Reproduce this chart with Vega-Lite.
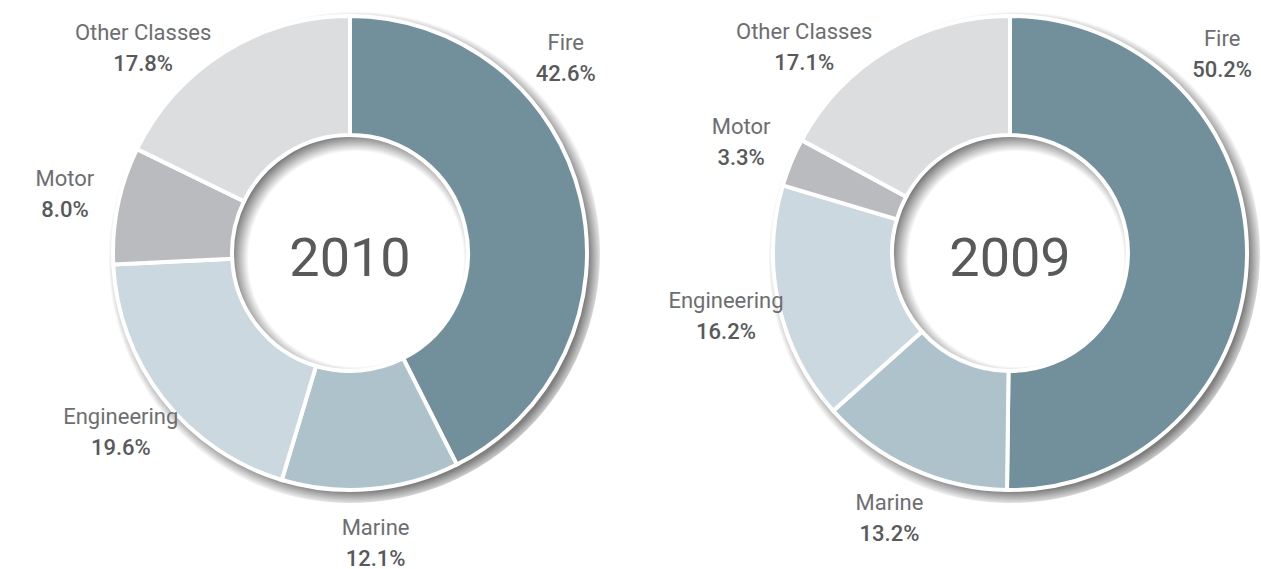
{
  "$schema": "https://vega.github.io/schema/vega-lite/v6.json",
  "padding": 0,
  "spacing": 60,
  "bounds": "flush",
  "background": "white",
  "config": {"view": {"stroke": null}, "font": "Roboto"},
  "datasets": {
    "shares": [
      {"year": "2010", "cls": "Fire", "pct": 42.6, "o": 1},
      {"year": "2010", "cls": "Marine", "pct": 12.1, "o": 2},
      {"year": "2010", "cls": "Engineering", "pct": 19.6, "o": 3},
      {"year": "2010", "cls": "Motor", "pct": 8.0, "o": 4},
      {"year": "2010", "cls": "Other Classes", "pct": 17.8, "o": 5},
      {"year": "2009", "cls": "Fire", "pct": 50.2, "o": 1},
      {"year": "2009", "cls": "Marine", "pct": 13.2, "o": 2},
      {"year": "2009", "cls": "Engineering", "pct": 16.2, "o": 3},
      {"year": "2009", "cls": "Motor", "pct": 3.3, "o": 4},
      {"year": "2009", "cls": "Other Classes", "pct": 17.1, "o": 5}
    ]
  },
  "hconcat": [
    {
      "width": 700,
      "height": 506,
      "data": {"name": "shares"},
      "transform": [
        {"filter": "datum.year == '2010'"},
        {"stack": "pct", "groupby": ["year"], "sort": [{"field": "o", "order": "ascending"}], "as": ["s0", "s1"]},
        {"calculate": "(datum.s0 + datum.s1) / 2", "as": "mid"},
        {"calculate": "datum.mid < 37.5 ? 13.3 : (datum.mid > 83 ? 87.5 : datum.mid)", "as": "la"},
        {"calculate": "format(datum.pct, '.1f') + '%'", "as": "plab"}
      ],
      "layer": [
        {
          "data": {"values": [{"shadow": 1}]},
          "transform": [],
          "mark": {"type": "arc", "theta": 0, "theta2": 6.2832, "radius": 250, "innerRadius": 0,
            "fill": {"gradient": "radial", "x1": 0.512, "y1": 0.512, "r1": 0, "x2": 0.512, "y2": 0.512, "r2": 0.5,
              "stops": [
                {"offset": 0, "color": "rgba(0,0,0,0)"},
                {"offset": 0.43, "color": "rgba(0,0,0,0)"},
                {"offset": 0.5, "color": "rgba(0,0,0,0.55)"},
                {"offset": 0.93, "color": "rgba(0,0,0,0.5)"},
                {"offset": 0.99, "color": "rgba(0,0,0,0)"},
                {"offset": 1, "color": "rgba(0,0,0,0)"}
              ]}},
          "encoding": {}
        },
        {
          "mark": {"type": "arc", "radius": 237, "innerRadius": 118, "stroke": "white", "strokeWidth": 4},
          "encoding": {
            "theta": {"field": "pct", "type": "quantitative", "stack": true},
            "color": {"field": "cls", "type": "nominal", "legend": null,
              "scale": {"domain": ["Fire", "Marine", "Engineering", "Motor", "Other Classes"],
                        "range": ["#728f9c", "#aec2cb", "#cbd8e0", "#babbbf", "#dcdddf"]}},
            "order": {"field": "o", "type": "quantitative"}
          }
        },
        {
          "mark": {"type": "text", "radius": 291, "dy": -15, "fontSize": 22, "color": "#6d6e71", "baseline": "middle"},
          "encoding": {
            "theta": {"field": "la", "type": "quantitative", "stack": null},
            "text": {"field": "cls", "type": "nominal"}
          }
        },
        {
          "mark": {"type": "text", "radius": 291, "dy": 16, "fontSize": 22, "fontWeight": 500, "color": "#58595b", "baseline": "middle"},
          "encoding": {
            "theta": {"field": "la", "type": "quantitative", "stack": null},
            "text": {"field": "plab", "type": "nominal"}
          }
        },
        {
          "transform": [{"aggregate": [{"op": "count", "as": "n"}], "groupby": ["year"]}],
          "mark": {"type": "text", "fontSize": 54, "dy": 7, "color": "#58595b", "baseline": "middle", "align": "center"},
          "encoding": {"text": {"field": "year", "type": "nominal"}}
        }
      ]
    },
    {
      "width": 500,
      "height": 506,
      "data": {"name": "shares"},
      "transform": [
        {"filter": "datum.year == '2009'"},
        {"stack": "pct", "groupby": ["year"], "sort": [{"field": "o", "order": "ascending"}], "as": ["s0", "s1"]},
        {"calculate": "(datum.s0 + datum.s1) / 2", "as": "mid"},
        {"calculate": "datum.mid < 37.5 ? 13 : (datum.mid > 83 ? 87.5 : datum.mid)", "as": "la"},
        {"calculate": "format(datum.pct, '.1f') + '%'", "as": "plab"}
      ],
      "layer": [
        {
          "data": {"values": [{"shadow": 1}]},
          "transform": [],
          "mark": {"type": "arc", "theta": 0, "theta2": 6.2832, "radius": 250, "innerRadius": 0,
            "fill": {"gradient": "radial", "x1": 0.512, "y1": 0.512, "r1": 0, "x2": 0.512, "y2": 0.512, "r2": 0.5,
              "stops": [
                {"offset": 0, "color": "rgba(0,0,0,0)"},
                {"offset": 0.43, "color": "rgba(0,0,0,0)"},
                {"offset": 0.5, "color": "rgba(0,0,0,0.55)"},
                {"offset": 0.93, "color": "rgba(0,0,0,0.5)"},
                {"offset": 0.99, "color": "rgba(0,0,0,0)"},
                {"offset": 1, "color": "rgba(0,0,0,0)"}
              ]}},
          "encoding": {}
        },
        {
          "mark": {"type": "arc", "radius": 237, "innerRadius": 118, "stroke": "white", "strokeWidth": 4},
          "encoding": {
            "theta": {"field": "pct", "type": "quantitative", "stack": true},
            "color": {"field": "cls", "type": "nominal", "legend": null,
              "scale": {"domain": ["Fire", "Marine", "Engineering", "Motor", "Other Classes"],
                        "range": ["#728f9c", "#aec2cb", "#cbd8e0", "#babbbf", "#dcdddf"]}},
            "order": {"field": "o", "type": "quantitative"}
          }
        },
        {
          "mark": {"type": "text", "radius": 291, "dy": -15, "fontSize": 22, "color": "#6d6e71", "baseline": "middle"},
          "encoding": {
            "theta": {"field": "la", "type": "quantitative", "stack": null},
            "text": {"field": "cls", "type": "nominal"}
          }
        },
        {
          "mark": {"type": "text", "radius": 291, "dy": 16, "fontSize": 22, "fontWeight": 500, "color": "#58595b", "baseline": "middle"},
          "encoding": {
            "theta": {"field": "la", "type": "quantitative", "stack": null},
            "text": {"field": "plab", "type": "nominal"}
          }
        },
        {
          "transform": [{"aggregate": [{"op": "count", "as": "n"}], "groupby": ["year"]}],
          "mark": {"type": "text", "fontSize": 54, "dy": 7, "color": "#58595b", "baseline": "middle", "align": "center"},
          "encoding": {"text": {"field": "year", "type": "nominal"}}
        }
      ]
    }
  ]
}
